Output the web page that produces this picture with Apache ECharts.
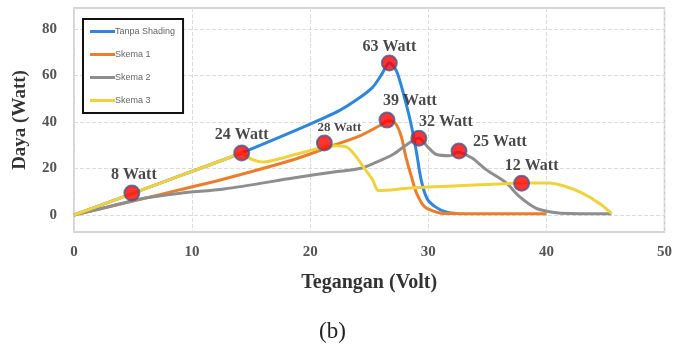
<!DOCTYPE html>
<html>
<head>
<meta charset="utf-8">
<script src="https://cdn.jsdelivr.net/npm/echarts@6/dist/echarts.min.js"></script>
<style>
html,body{margin:0;padding:0;background:#fff;}
#c{width:675px;height:348px;}
</style>
</head>
<body>
<div id="c"></div>
<script>
// ---- data ----
const seriesNames = ['Tanpa Shading', 'Skema 1', 'Skema 2', 'Skema 3'];

const tanpaShading = [[0,0],[4,7.5],[9,16.9],[13,24.4],[14.2,26.7],[19.4,37.8],[22.5,45],[24.2,50.5],[25.3,55],[26,60],[26.7,65.4],[27.3,62],[27.9,52],[28.5,40],[29,27],[29.4,15],[29.9,7],[30.6,3.5],[31.5,1.3],[32.5,0.6]];
const skema1 = [[0,0],[2.5,3],[5,6],[9,10.9],[12.7,15.5],[18.7,24],[22,30],[24.2,34],[25.9,38.5],[26.6,40.5],[27.2,39.5],[27.7,34],[28.1,25],[28.6,16],[29,9.5],[29.7,3.5],[30.9,1],[32,0.6],[36,0.5],[40,0.5]];
const skema2 = [[0,0],[2.5,3],[5.7,7],[9,9.4],[12.7,11.2],[18.7,16],[22,18.5],[24.2,20],[25.5,22.5],[27,26],[28.1,30],[29.2,33],[30,29],[30.7,26],[31.8,25.5],[32.5,27],[33.7,24.5],[34.9,19.5],[36.6,13.8],[37.7,8],[39.1,3],[40.5,1.2],[42,0.6],[45.5,0.5]];
const skema3 = [[0,0],[4,7.5],[9,16.9],[13,24.4],[14.2,26.7],[15,24],[16,22.8],[18,25],[20.2,28],[22,29.8],[23.1,29.2],[23.9,25],[24.6,20],[25.3,15],[25.8,10.5],[28.4,11.6],[30,12],[34.3,13],[38.5,13.8],[40.2,13.8],[41.5,12.5],[43,9.5],[44.5,5],[45.5,0.8]];

const markerX = [4.9, 14.2, 21.2, 26.7, 26.5, 29.2, 32.6, 37.9];
const markerY = [9.5, 26.7, 31, 65.4, 40.8, 33, 27.5, 13.7];
const markerLabels = ['8 Watt', '24 Watt', '28 Watt', '63 Watt', '39 Watt', '32 Watt', '25 Watt', '12 Watt'];

const xTicks = [0, 10, 20, 30, 40, 50];
const yTicks = [0, 20, 40, 60, 80];

// ---- styles ----
const colors = ['#2E86DE', '#EE7D2B', '#8E8E8E', '#F0D23C'];
const labelOffsets = [[2,-18],[0,-18],[15,-15],[0,-16],[23,-19],[27,-16],[41,-9],[10,-17]];
const labelSizes = [16,16,13,16,16,16,16,16];
const serif = '"Liberation Serif", "DejaVu Serif", serif';

const lineData = [tanpaShading, skema1, skema2, skema3];
const lineSeries = lineData.map((d, i) => ({
  name: seriesNames[i],
  type: 'line',
  data: d,
  smooth: 0.3,
  showSymbol: false,
  symbol: 'none',
  lineStyle: { color: colors[i], width: 3 },
  itemStyle: { color: colors[i] },
  z: 2 + i
}));

const markerData = markerX.map((x, i) => ({
  value: [x, markerY[i]],
  label: {
    show: true,
    formatter: markerLabels[i],
    position: 'inside',
    offset: labelOffsets[i],
    fontSize: labelSizes[i],
    fontWeight: 'bold',
    fontFamily: serif,
    color: '#1a1a1a'
  }
}));

const chart = echarts.init(document.getElementById('c'), null, { renderer: 'canvas' });
chart.setOption({
  animation: false,
  backgroundColor: '#fff',
  grid: {
    left: 74, right: 9, top: 8, bottom: 116,
    show: true, borderColor: '#c8c8c8', borderWidth: 1.5
  },
  legend: {
    data: seriesNames.map((n, i) => ({ name: n, icon: 'rect', itemStyle: { color: colors[i] } })),
    orient: 'vertical',
    left: 83, top: 19,
    itemWidth: 25, itemHeight: 3, itemGap: 14,
    padding: [8, 8, 8, 7],
    borderColor: '#111', borderWidth: 2,
    backgroundColor: '#fff',
    textStyle: { fontSize: 9, color: '#666', fontFamily: '"Liberation Sans", Arial, sans-serif', padding: [0, 0, 0, -5] }
  },
  xAxis: {
    type: 'value', min: 0, max: 50, interval: 10,
    name: 'Tegangan (Volt)', nameLocation: 'middle', nameGap: 41,
    nameTextStyle: { fontSize: 20, fontWeight: 'bold', fontFamily: serif, color: '#333' },
    axisLine: { show: false }, axisTick: { show: false },
    axisLabel: { customValues: xTicks, margin: 13, fontSize: 15, fontWeight: 'bold', fontFamily: serif, color: '#555' },
    splitLine: { show: true, lineStyle: { color: '#dcdcdc', type: 'dashed', width: 1 } }
  },
  yAxis: {
    type: 'value', min: -7.3, max: 89,
    name: 'Daya (Watt)', nameLocation: 'middle', nameGap: 44, nameRotate: 90,
    nameTextStyle: { fontSize: 19, fontWeight: 'bold', fontFamily: serif, color: '#333' },
    axisLine: { show: false },
    axisTick: { show: false, customValues: yTicks },
    axisLabel: { customValues: yTicks, margin: 17, fontSize: 15, fontWeight: 'bold', fontFamily: serif, color: '#555' },
    splitLine: { show: true, lineStyle: { color: '#dcdcdc', type: 'dashed', width: 1 } }
  },
  series: lineSeries.concat([{
    name: 'markers',
    type: 'scatter',
    data: markerData,
    symbolSize: 15,
    itemStyle: { color: '#FF0000', borderColor: '#4A5A8A', borderWidth: 2 },
    z: 10
  }]),
  graphic: [{
    type: 'text',
    left: 319, top: 320,
    style: { text: '(b)', fontSize: 23, fontFamily: serif, fill: '#222' }
  }]
});
</script>
</body>
</html>
